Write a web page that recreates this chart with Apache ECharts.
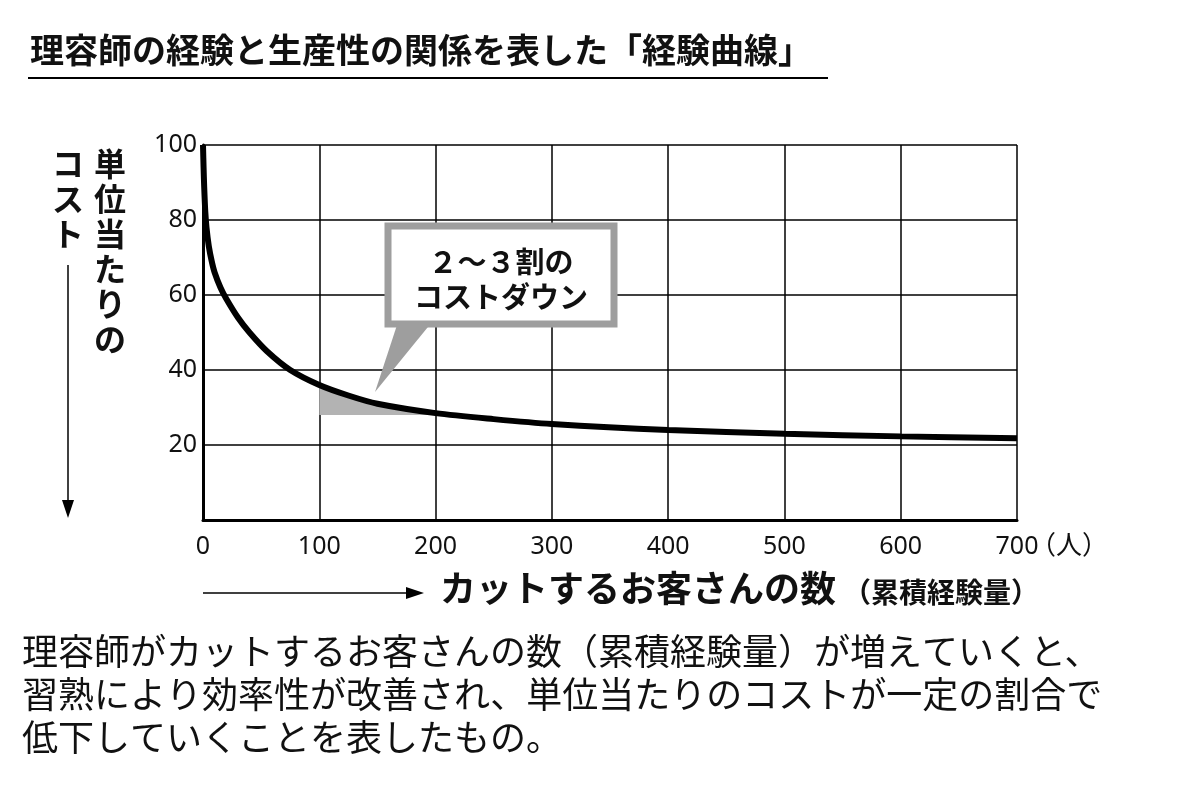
<!DOCTYPE html><html><head><meta charset="utf-8"><script src="https://cdn.jsdelivr.net/npm/echarts@6/dist/echarts.min.js"></script>
<style>body{margin:0;background:#fff}#c{width:1200px;height:809px}</style></head><body><div id="c"></div><script>
const curve=[[0,100],[0.5,94],[1,89],[2,82],[3,78],[5,73],[7.5,69],[10,66],[15,62],[20,59],[30,54],[40,50],[55,45],[75,40],[100,36],[125,33.2],[150,31],[200,28.5],[250,26.9],[300,25.6],[400,24],[500,23],[600,22.3],[700,21.8]];
const shade=[[100,36],[125,33.2],[150,31],[175,29.6],[200,28.5],[200,28],[100,28]];
const xTicks=[0,100,200,300,400,500,600,700];
const yTicks=[20,40,60,80,100];
const F='"Noto Sans CJK JP","Noto Sans",sans-serif';
const ch=echarts.init(document.getElementById('c'));
function vtext(s){return s.split('').join('\n');}
ch.setOption({
animation:false,
grid:{left:203,right:183,top:145,bottom:289},
xAxis:{type:'value',min:0,max:700,interval:100,axisLine:{lineStyle:{color:'#000',width:3}},axisTick:{show:false},
 axisLabel:{fontSize:25,color:'#111',fontFamily:'"Noto Sans",sans-serif',margin:14},splitLine:{show:true,lineStyle:{color:'#000',width:1.5}}},
yAxis:{type:'value',min:0,max:100,interval:20,axisLine:{show:true,lineStyle:{color:'#000',width:3}},axisTick:{show:false},
 axisLabel:{fontSize:25,color:'#111',fontFamily:'"Noto Sans",sans-serif',margin:6,formatter:v=>v===0?'':v},splitLine:{show:true,lineStyle:{color:'#000',width:1.5}}},
series:[
{type:'custom',z:1,renderItem:(p,api)=>({type:'polygon',shape:{points:shade.map(d=>api.coord(d))},style:{fill:'#b3b3b3'}}),data:[0]},
{type:'line',z:3,data:curve,smooth:0.3,showSymbol:false,lineStyle:{color:'#000',width:6}}
],
graphic:[
{type:'text',left:30,top:33,style:{text:'理容師の経験と生産性の関係を表した「経験曲線」',font:'bold 34px '+F,fill:'#111'}},
{type:'line',shape:{x1:28,y1:78,x2:828,y2:78},style:{stroke:'#000',lineWidth:2}},
{type:'text',x:94,y:146,style:{text:vtext('単位当たりの'),font:'bold 32px '+F,lineHeight:35,fill:'#111'}},
{type:'text',x:52,y:146,style:{text:vtext('コスト'),font:'bold 32px '+F,lineHeight:35,fill:'#111'}},
{type:'line',shape:{x1:68,y1:265,x2:68,y2:505},style:{stroke:'#000',lineWidth:1.5}},
{type:'polygon',shape:{points:[[62,500],[74,500],[68,518]]},style:{fill:'#000'}},
{type:'line',shape:{x1:203,y1:593,x2:410,y2:593},style:{stroke:'#000',lineWidth:1.5}},
{type:'polygon',shape:{points:[[406,587],[406,599],[424,593]]},style:{fill:'#000'}},
{type:'text',x:440,y:570,style:{text:'カットするお客さんの数',font:'bold 36px '+F,fill:'#111'}},
{type:'text',x:843,y:578,style:{text:'（累積経験量）',font:'bold 28px '+F,fill:'#111'}},
{type:'text',x:1030,y:531,style:{text:'（人）',font:'26px '+F,fill:'#111'}},
{type:'polygon',z:10,shape:{points:[[398,322],[432,322],[375,392]]},style:{fill:'#9e9e9e'}},
{type:'rect',z:11,shape:{x:388,y:226,width:226,height:98},style:{fill:'#fff',stroke:'#9e9e9e',lineWidth:7}},
{type:'text',z:12,x:501,y:244,style:{text:'２～３割の\nコストダウン',align:'center',font:'bold 29px '+F,lineHeight:35,fill:'#111'}},
{type:'text',x:22,y:630,style:{text:'理容師がカットするお客さんの数（累積経験量）が増えていくと、\n習熟により効率性が改善され、単位当たりのコストが一定の割合で\n低下していくことを表したもの。',font:'36px '+F,lineHeight:43,fill:'#111'}}
]});
</script></body></html>
